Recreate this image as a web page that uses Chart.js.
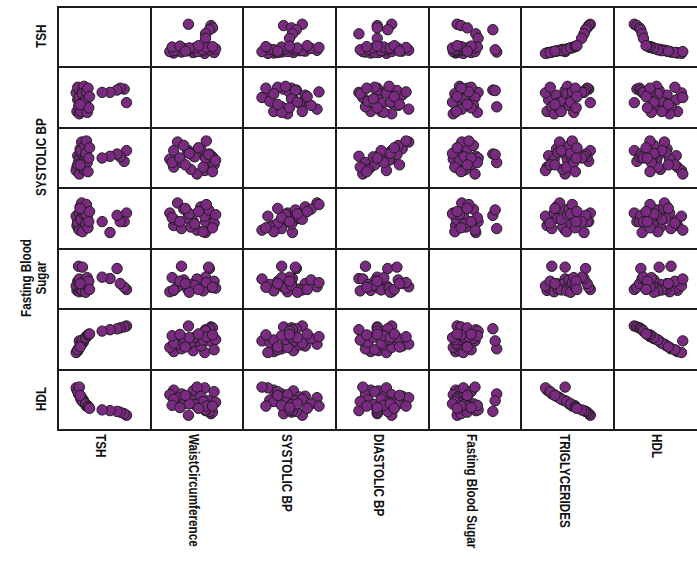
<!DOCTYPE html>
<html>
<head>
<meta charset="utf-8">
<script src="https://cdn.jsdelivr.net/npm/chart.js@4.4.0/dist/chart.umd.min.js"></script>
<style>
  html, body { margin: 0; padding: 0; background: #fff; overflow: hidden; }
  body { width: 697px; height: 562px; position: relative; }
  .cell { position: absolute; box-sizing: border-box; border: 2px solid #1c1c1c; background: #fff; }
  .cell canvas { position: absolute; left: 0; top: 0; }
  .lbl { position: absolute; font-family: 'Liberation Sans', Arial, sans-serif;
         font-weight: bold; font-size: 15px; color: #111; white-space: nowrap; line-height: 15px; }
  /* narrow look: squeeze along the text direction */
  .col { transform-origin: 0 0; transform: rotate(90deg) scaleX(0.78); }
  .row { transform-origin: 0 0; transform: rotate(-90deg) scaleX(0.78); text-align: center; }
</style>
</head>
<body>
<script>
// variables (rows top->bottom, cols left->right)
const varNames = ['TSH', 'WaistCircumference', 'SYSTOLIC BP', 'DIASTOLIC BP', 'Fasting Blood Sugar', 'TRIGLYCERIDES', 'HDL'];
const rowLabels = ['TSH', '', 'SYSTOLIC BP', '', 'Fasting Blood<br>Sugar', '', 'HDL'];
const axisMin = [0, 60, 90, 50, 60, 0, 20];
const axisMax = [10, 120, 170, 110, 260, 400, 80];

// one value per subject
const tsh = [7.8, 7.5, 7.0, 6.6, 5.7, 4.7, 1.5, 1.6, 1.7, 1.4, 1.8, 1.9, 1.6, 2.0, 2.1, 1.8, 2.2, 2.3, 2.0, 2.4, 2.5, 2.2, 2.6, 2.7, 2.8, 2.6, 2.9, 3.0, 3.1, 1.9];
const waist = [83.4, 100.8, 102, 99.6, 96.6, 96.6, 72, 87, 78, 96, 69, 93, 103.2, 82.8, 75, 90, 99, 85.2, 72, 104.4, 79.8, 94.8, 88.2, 97.2, 70.8, 84, 102, 76.8, 91.2, 81];
const systolic = [143, 124, 132, 137, 133, 130, 114, 134, 122, 108, 128, 146, 118, 140, 158, 102, 136, 110, 143, 126, 152, 114, 132, 160, 122, 138, 106, 130, 148, 118];
const diastolic = [87, 76, 76, 84, 62, 76, 71, 77, 67, 83, 87, 95, 74, 80, 100, 65, 91, 69, 79, 85, 92, 63, 73, 98, 81, 86, 68, 76, 89, 93];
const fbs = [114, 124, 140, 206, 162, 168, 110, 120, 216, 130, 104, 140, 150, 116, 126, 160, 212, 136, 112, 120, 156, 108, 132, 144, 166, 102, 124, 150, 114, 140];
const trig = [316, 308, 300, 292, 284, 272, 96, 104, 120, 88, 132, 144, 112, 152, 160, 188, 188, 176, 168, 200, 208, 196, 220, 224, 232, 216, 240, 244, 248, 136];
const hdl = [30, 32, 34, 35, 36, 37, 63, 62, 58, 66, 57, 55, 61, 54, 53, 67, 49, 50, 51, 47, 45, 48, 44, 42, 43, 45, 42, 40, 39, 56];

const series = [tsh, waist, systolic, diastolic, fbs, trig, hdl];

const gridLeft = 57, gridTop = 6, cw = 92.67, ch = 60.43;

for (let i = 0; i < 7; i++) {
  for (let j = 0; j < 7; j++) {
    const x0 = Math.round(gridLeft + j * cw), x1 = Math.round(gridLeft + (j + 1) * cw);
    const y0 = Math.round(gridTop + i * ch), y1 = Math.round(gridTop + (i + 1) * ch);
    const cell = document.createElement('div');
    cell.className = 'cell';
    cell.style.left = x0 + 'px';
    cell.style.top = y0 + 'px';
    cell.style.width = (x1 - x0 + 2) + 'px';
    cell.style.height = (y1 - y0 + 2) + 'px';
    document.body.appendChild(cell);
    if (i === j) continue;

    const cv = document.createElement('canvas');
    cv.width = x1 - x0 - 2;
    cv.height = y1 - y0 - 2;
    cell.appendChild(cv);

    const pts = series[j].map((v, k) => ({ x: v, y: series[i][k] }));
    new Chart(cv, {
      type: 'scatter',
      data: {
        datasets: [{
          data: pts,
          backgroundColor: '#7a2a80',
          borderColor: '#1e1e1e',
          borderWidth: 1,
          pointRadius: 5.2
        }]
      },
      options: {
        responsive: false,
        animation: false,
        devicePixelRatio: 1,
        events: [],
        layout: { padding: 0 },
        plugins: { legend: { display: false }, tooltip: { enabled: false } },
        scales: {
          x: { display: false, min: axisMin[j], max: axisMax[j] },
          y: { display: false, min: axisMin[i], max: axisMax[i] }
        }
      }
    });
  }
}

// column labels along the bottom, reading downwards
varNames.forEach((name, j) => {
  const d = document.createElement('div');
  d.className = 'lbl col';
  d.textContent = name;
  d.style.left = (gridLeft + (j + 0.5) * cw + 6) + 'px';
  d.style.top = (gridTop + 7 * ch + 5) + 'px';
  document.body.appendChild(d);
});

// row labels on the left, reading upwards (some are left out as in the original)
rowLabels.forEach((name, i) => {
  if (!name) return;
  const d = document.createElement('div');
  d.className = 'lbl row';
  d.innerHTML = name;
  document.body.appendChild(d);
  const w = d.offsetWidth * 0.78, h = d.offsetHeight;
  d.style.left = (48 - h) + 'px';
  d.style.top = (gridTop + (i + 0.5) * ch + w / 2) + 'px';
});
</script>
</body>
</html>
